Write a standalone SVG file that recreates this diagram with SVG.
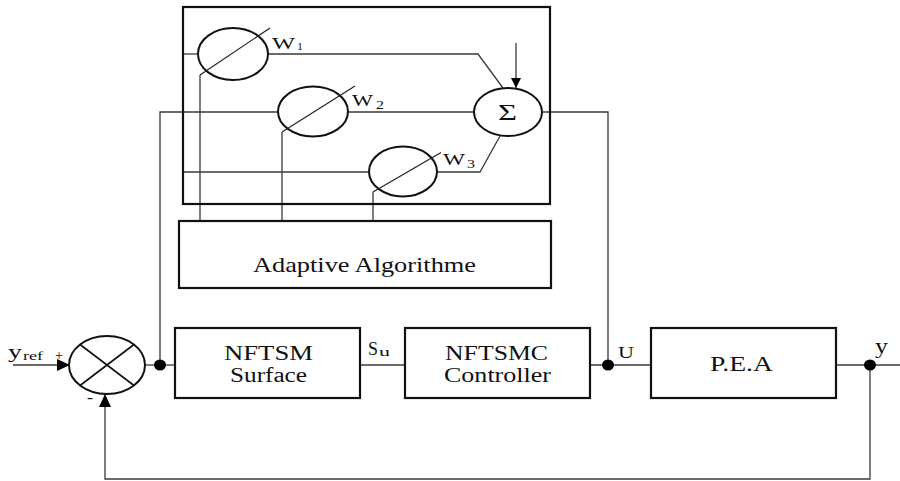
<svg xmlns="http://www.w3.org/2000/svg" width="900" height="481" viewBox="0 0 900 481">
<style>
.box{fill:none;stroke:#111;stroke-width:2.2}
.ell{fill:none;stroke:#111;stroke-width:2}
.wire{fill:none;stroke:#3a3a3a;stroke-width:1.3}
.slash{fill:none;stroke:#222;stroke-width:1.2}
.dot{fill:#000}
.t{font-family:"Liberation Serif","Times New Roman",Tinos,"Noto Serif","DejaVu Serif",FreeSerif,Times,serif;fill:#111}
</style>
<defs>
<marker id="arr" markerUnits="userSpaceOnUse" markerWidth="13" markerHeight="12" refX="13" refY="6" orient="auto">
<path d="M0,0 L13,6 L0,12 z" fill="#000"/>
</marker>
<marker id="arrS" markerUnits="userSpaceOnUse" markerWidth="10" markerHeight="10" refX="10" refY="5" orient="auto">
<path d="M0,0 L10,5 L0,10 z" fill="#000"/>
</marker>
</defs>
<rect width="900" height="481" fill="#fff"/>

<g id="connectors">
<path class="wire" d="M183,54 H198"/>
<path class="wire" d="M160,365 V112 H278"/>
<path class="wire" d="M183,172 H369"/>
<path class="wire" d="M268,54 H478 L503,88"/>
<path class="wire" d="M348,112 H474"/>
<path class="wire" d="M437,172 H480 L500,136"/>
<path class="wire" d="M516,43 V88" marker-end="url(#arrS)"/>
<path class="wire" d="M542,112 H608 V365"/>
<path class="wire" d="M200,75 V221"/>
<path class="wire" d="M282,132 V221"/>
<path class="wire" d="M373,192 V221"/>
<path class="wire" d="M13,365 H70" marker-end="url(#arr)"/>
<path class="wire" d="M145,365 H175"/>
<path class="wire" d="M360,365 H405"/>
<path class="wire" d="M590,365 H651"/>
<path class="wire" d="M836,365 H900"/>
<path class="wire" d="M870,365 V479 H105 V394" marker-end="url(#arr)"/>
<ellipse class="dot" cx="160" cy="365" rx="6" ry="5.5"/>
<ellipse class="dot" cx="608" cy="365" rx="6" ry="5.5"/>
<ellipse class="dot" cx="870" cy="365" rx="6" ry="5.5"/>
</g>

<g id="node-neural">
<rect class="box" x="183" y="7" width="367" height="197"/>
</g>

<g id="node-w1">
<ellipse class="ell" cx="233" cy="54" rx="35" ry="26"/>
<path class="slash" d="M200,75 L270,28"/>
<text class="t" x="272" y="48.5" font-size="16" textLength="23" lengthAdjust="spacingAndGlyphs">W</text>
<text class="t" x="297" y="49.5" font-size="10.5" textLength="6" lengthAdjust="spacingAndGlyphs">1</text>
</g>

<g id="node-w2">
<ellipse class="ell" cx="313" cy="111.5" rx="35" ry="25"/>
<path class="slash" d="M282,132 L355,86"/>
<text class="t" x="352" y="105.5" font-size="16" textLength="21" lengthAdjust="spacingAndGlyphs">W</text>
<text class="t" x="376" y="109" font-size="13" textLength="8" lengthAdjust="spacingAndGlyphs">2</text>
</g>

<g id="node-w3">
<ellipse class="ell" cx="403" cy="171.5" rx="34" ry="25"/>
<path class="slash" d="M373,192 L441,152.5"/>
<text class="t" x="443" y="164.5" font-size="16" textLength="22" lengthAdjust="spacingAndGlyphs">W</text>
<text class="t" x="467" y="168" font-size="13" textLength="8" lengthAdjust="spacingAndGlyphs">3</text>
</g>

<g id="node-sigma">
<ellipse class="ell" cx="508" cy="112" rx="34" ry="24"/>
<text class="t" x="498" y="120" font-size="24" textLength="19" lengthAdjust="spacingAndGlyphs">Σ</text>
</g>

<g id="node-adaptive">
<rect class="box" x="179" y="221" width="372" height="67"/>
<text class="t" x="253" y="272" font-size="21" textLength="223" lengthAdjust="spacingAndGlyphs">Adaptive Algorithme</text>
</g>

<g id="node-sum">
<ellipse class="ell" cx="107" cy="365" rx="38" ry="29"/>
<path class="ell" d="M80,344.5 L134,385.5 M80,385.5 L134,344.5" style="stroke-width:1.6"/>
<text class="t" x="8" y="358" font-size="19" textLength="14" lengthAdjust="spacingAndGlyphs">y</text>
<text class="t" x="23" y="360" font-size="12.5" textLength="20" lengthAdjust="spacingAndGlyphs">ref</text>
<text class="t" x="55" y="360" font-size="15" textLength="8" lengthAdjust="spacingAndGlyphs">+</text>
<text class="t" x="87" y="403" font-size="17" textLength="6" lengthAdjust="spacingAndGlyphs">-</text>
</g>

<g id="node-nftsm">
<rect class="box" x="175" y="328" width="185" height="70"/>
<text class="t" x="224" y="360" font-size="20" textLength="89" lengthAdjust="spacingAndGlyphs">NFTSM</text>
<text class="t" x="230" y="382" font-size="20" textLength="77" lengthAdjust="spacingAndGlyphs">Surface</text>
</g>
<text class="t" x="368" y="355" font-size="18.5" textLength="10" lengthAdjust="spacingAndGlyphs">S</text>
<text class="t" x="379" y="355.5" font-size="13" textLength="11" lengthAdjust="spacingAndGlyphs">u</text>

<g id="node-nftsmc">
<rect class="box" x="405" y="328" width="185" height="70"/>
<text class="t" x="445" y="359.5" font-size="20" textLength="103" lengthAdjust="spacingAndGlyphs">NFTSMC</text>
<text class="t" x="444" y="382" font-size="20" textLength="107" lengthAdjust="spacingAndGlyphs">Controller</text>
</g>
<text class="t" x="618" y="358.3" font-size="17.5" textLength="16" lengthAdjust="spacingAndGlyphs">U</text>

<g id="node-pea">
<rect class="box" x="651" y="328" width="185" height="70"/>
<text class="t" x="710" y="371" font-size="21" textLength="63" lengthAdjust="spacingAndGlyphs">P.E.A</text>
</g>
<text class="t" x="875" y="352.5" font-size="20" textLength="13" lengthAdjust="spacingAndGlyphs">y</text>
</svg>
